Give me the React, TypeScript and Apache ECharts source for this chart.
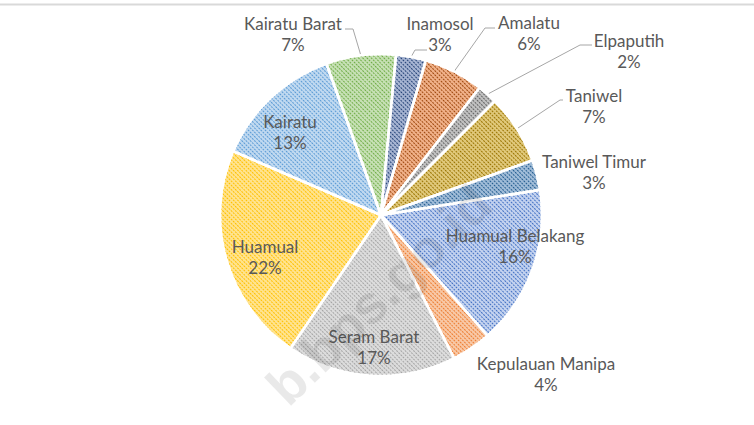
import React, { useEffect, useRef } from "react";
import * as echarts from "echarts";

const categories = [
  "Huamual Belakang",
  "Kepulauan Manipa",
  "Seram Barat",
  "Huamual",
  "Kairatu",
  "Kairatu Barat",
  "Inamosol",
  "Amalatu",
  "Elpaputih",
  "Taniwel",
  "Taniwel Timur",
];
const shares = [16, 4, 17, 22, 13, 7, 3, 6, 2, 7, 3];

// styles (not data)
const fgColors = ["#4472C4", "#ED7D31", "#A5A5A5", "#FFC000", "#5B9BD5", "#70AD47", "#264478", "#9E480E", "#636363", "#997300", "#255E91"];
const bgColors = ["#C3D2EF", "#F8C8A6", "#DCDCDC", "#FFE38F", "#C0D9F0", "#C6E0B4", "#A6B4D2", "#F0B088", "#C0C0C0", "#E0C87A", "#A0BCD8"];

// label anchor positions (centre of each label block) and leader-line bends
const labelPlacement: Record<string, { x: number; y: number }> = {
  "Huamual Belakang": { x: 515, y: 246 },
  "Kepulauan Manipa": { x: 546, y: 374 },
  "Seram Barat": { x: 374, y: 347 },
  "Huamual": { x: 265, y: 257 },
  "Kairatu": { x: 290, y: 132 },
  "Kairatu Barat": { x: 293, y: 34 },
  "Inamosol": { x: 440, y: 34 },
  "Amalatu": { x: 529, y: 33 },
  "Elpaputih": { x: 629, y: 51 },
  "Taniwel": { x: 594, y: 106 },
  "Taniwel Timur": { x: 594, y: 172 },
};
const leaderLines: Record<string, number[][]> = {
  "Kairatu Barat": [[353, 29], [345, 29]],
  "Inamosol": [[415, 50], [427, 50]],
  "Amalatu": [[485, 28], [495, 28]],
  "Elpaputih": [[580, 45], [592, 45]],
  "Taniwel": [[560, 100], [563, 100]],
};

const textColor = "#595959";
const fontFamily = "Lato, 'Noto Sans', sans-serif";

export default function App() {
  const ref = useRef<HTMLDivElement>(null);
  useEffect(() => {
    if (!ref.current) return;
    const chart = echarts.init(ref.current, undefined, { renderer: "svg" });
    const data = categories.map((name, i) => ({
      name,
      value: shares[i],
      itemStyle: {
        color: bgColors[i],
        decal: {
          symbol: "rect",
          color: fgColors[i],
          dashArrayX: [2, 1],
          dashArrayY: [1, 1.1],
          rotation: Math.PI / 4,
        },
      },
      labelLine: { show: !!leaderLines[name] },
    }));
    const rich = {
      n: { align: "center", color: textColor, fontSize: 17, fontFamily, lineHeight: 21.5 },
      p: { align: "center", color: textColor, fontSize: 17, fontFamily, lineHeight: 21.5 },
    };
    chart.setOption({
      animation: false,
      backgroundColor: "#ffffff",
      graphic: [
        {
          type: "line",
          shape: { x1: 0, y1: 4.5, x2: 754, y2: 4.5 },
          style: { stroke: "#D9D9D9", lineWidth: 2 },
          silent: true,
        },
        {
          type: "text",
          x: 294,
          y: 414,
          rotation: (44 * Math.PI) / 180,
          z: 100,
          silent: true,
          style: {
            text: "b.bps.go.id",
            font: "bold 54px 'Liberation Sans', sans-serif",
            fill: "rgba(0,0,0,0.085)",
            textAlign: "left",
            textVerticalAlign: "bottom",
          },
        },
      ],
      series: [
        {
          type: "pie",
          center: [381, 215],
          radius: 161,
          startAngle: 9,
          clockwise: true,
          silent: true,
          avoidLabelOverlap: false,
          itemStyle: { borderColor: "#ffffff", borderWidth: 2.5 },
          label: {
            show: true,
            position: "outside",
            formatter: "{n|{b}}\n{p|{c}%}",
            rich,
          },
          labelLine: {
            length: 10,
            length2: 6,
            lineStyle: { color: "#A6A6A6", width: 1 },
          },
          labelLayout: (params: any) => {
            const name = categories[params.dataIndex];
            const p = labelPlacement[name];
            const out: any = {
              x: p.x,
              y: p.y,
              align: "center",
              verticalAlign: "middle",
              hideOverlap: false,
              moveOverlap: false,
            };
            const bends = leaderLines[name];
            if (bends && params.labelLinePoints && params.labelLinePoints.length) {
              out.labelLinePoints = [params.labelLinePoints[0], bends[0], bends[1]];
            }
            return out;
          },
          data,
        },
      ],
    });
    return () => chart.dispose();
  }, []);
  return (
    <div
      ref={ref}
      style={{ position: "fixed", left: 0, top: 0, width: 754, height: 425 }}
    />
  );
}
